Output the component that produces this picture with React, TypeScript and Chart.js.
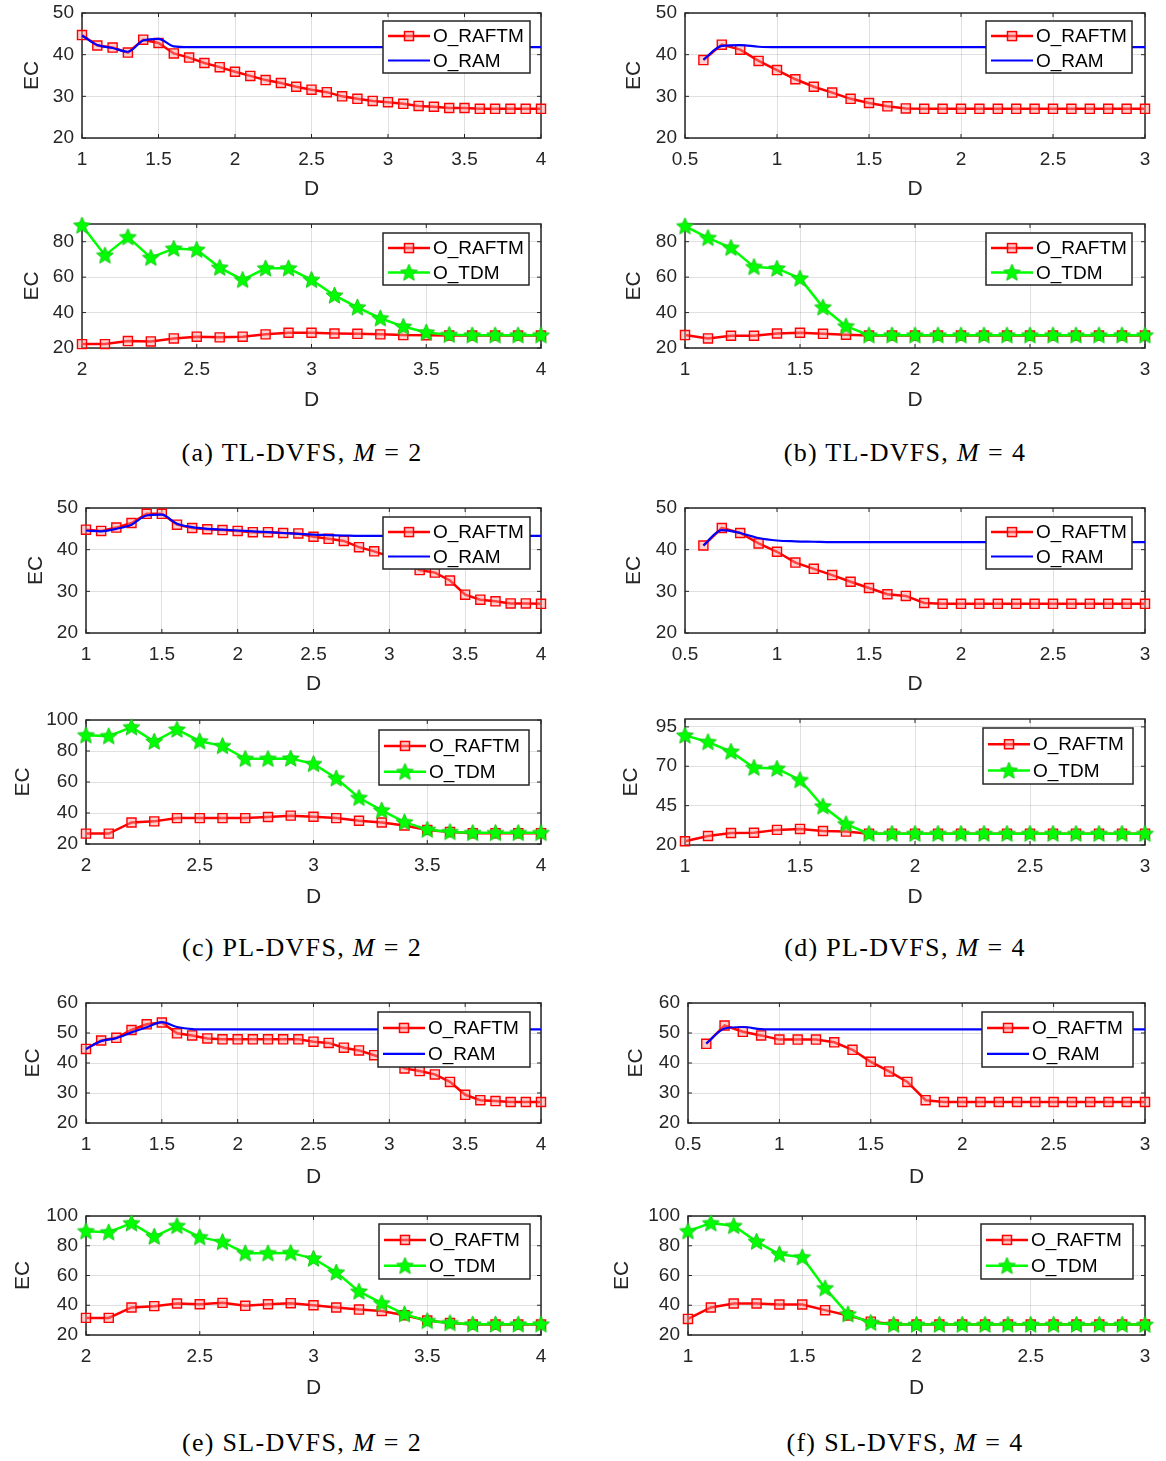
import React, { useEffect, useRef } from "react";
import { Chart, registerables } from "chart.js";
Chart.register(...registerables);

// ---------- x values (D) ----------
const D_1_4 = [1, 1.1, 1.2, 1.3, 1.4, 1.5, 1.6, 1.7, 1.8, 1.9, 2, 2.1, 2.2, 2.3, 2.4, 2.5, 2.6, 2.7, 2.8, 2.9, 3, 3.1, 3.2, 3.3, 3.4, 3.5, 3.6, 3.7, 3.8, 3.9, 4];
const D_06_3 = [0.6, 0.7, 0.8, 0.9, 1, 1.1, 1.2, 1.3, 1.4, 1.5, 1.6, 1.7, 1.8, 1.9, 2, 2.1, 2.2, 2.3, 2.4, 2.5, 2.6, 2.7, 2.8, 2.9, 3];
const D_2_4 = [2, 2.1, 2.2, 2.3, 2.4, 2.5, 2.6, 2.7, 2.8, 2.9, 3, 3.1, 3.2, 3.3, 3.4, 3.5, 3.6, 3.7, 3.8, 3.9, 4];
const D_1_3 = [1, 1.1, 1.2, 1.3, 1.4, 1.5, 1.6, 1.7, 1.8, 1.9, 2, 2.1, 2.2, 2.3, 2.4, 2.5, 2.6, 2.7, 2.8, 2.9, 3];

// ---------- tick labels ----------
const X_TICKS_1_4 = [1, 1.5, 2, 2.5, 3, 3.5, 4];
const X_TICKS_05_3 = [0.5, 1, 1.5, 2, 2.5, 3];
const X_TICKS_2_4 = [2, 2.5, 3, 3.5, 4];
const X_TICKS_1_3 = [1, 1.5, 2, 2.5, 3];
const Y_TICKS_20_50 = [20, 30, 40, 50];
const Y_TICKS_20_80 = [20, 40, 60, 80];
const Y_TICKS_20_100 = [20, 40, 60, 80, 100];
const Y_TICKS_20_95 = [20, 45, 70, 95];
const Y_TICKS_20_60 = [20, 30, 40, 50, 60];

// ---------- (a) TL-DVFS, M = 2 ----------
const A1_RAFTM = [44.7, 42.2, 41.7, 40.5, 43.6, 42.8, 40.3, 39.3, 38.0, 37.0, 35.9, 34.9, 33.9, 33.2, 32.3, 31.6, 31.0, 30.0, 29.4, 28.9, 28.6, 28.2, 27.7, 27.5, 27.2, 27.2, 27.0, 27.0, 27.0, 27.0, 27.0];
const A1_RAM = [44.6, 42.3, 41.6, 40.7, 43.4, 43.8, 42.0, 41.8, 41.8, 41.8, 41.8, 41.8, 41.8, 41.8, 41.8, 41.8, 41.8, 41.8, 41.8, 41.8, 41.8, 41.8, 41.8, 41.8, 41.8, 41.8, 41.8, 41.8, 41.8, 41.8, 41.8];
const A2_RAFTM = [22.2, 22.2, 23.9, 23.7, 25.4, 26.4, 26.0, 26.4, 27.7, 28.6, 28.6, 28.2, 28.0, 27.7, 27.3, 27.2, 27.0, 27.0, 27.0, 27.0, 27.0];
const A2_TDM = [89.2, 72.3, 82.6, 71.0, 76.1, 75.5, 65.4, 58.5, 65.0, 65.0, 58.5, 49.7, 43.0, 36.8, 32.1, 28.8, 27.5, 27.2, 27.2, 27.2, 27.2];

// ---------- (b) TL-DVFS, M = 4 ----------
const B1_RAFTM = [38.7, 42.4, 41.2, 38.5, 36.3, 34.1, 32.3, 30.9, 29.4, 28.4, 27.6, 27.1, 27.0, 27.0, 27.0, 27.0, 27.0, 27.0, 27.0, 27.0, 27.0, 27.0, 27.0, 27.0, 27.0];
const B1_RAM = [38.8, 42.1, 42.3, 41.9, 41.8, 41.8, 41.8, 41.8, 41.8, 41.8, 41.8, 41.8, 41.8, 41.8, 41.8, 41.8, 41.8, 41.8, 41.8, 41.8, 41.8, 41.8, 41.8, 41.8, 41.8];
const B2_RAFTM = [27.3, 25.4, 26.9, 26.9, 28.2, 28.6, 28.0, 27.5, 27.0, 27.0, 27.0, 27.0, 27.0, 27.0, 27.0, 27.0, 27.0, 27.0, 27.0, 27.0, 27.0];
const B2_TDM = [88.8, 82.2, 76.6, 65.8, 64.9, 59.3, 43.0, 32.3, 27.2, 27.2, 27.2, 27.2, 27.2, 27.2, 27.2, 27.2, 27.2, 27.2, 27.2, 27.2, 27.2];

// ---------- (c) PL-DVFS, M = 2 ----------
const C1_RAFTM = [44.8, 44.5, 45.3, 46.4, 48.6, 48.6, 46.0, 45.2, 44.9, 44.7, 44.5, 44.2, 44.2, 44.0, 43.9, 43.1, 42.6, 42.1, 40.6, 39.6, 38.4, 37.0, 35.1, 34.5, 32.6, 29.2, 28.0, 27.6, 27.1, 27.1, 27.0];
const C1_RAM = [44.6, 44.4, 45.0, 46.0, 48.2, 48.4, 46.2, 45.4, 45.0, 44.8, 44.6, 44.4, 44.2, 44.0, 43.8, 43.6, 43.5, 43.4, 43.3, 43.3, 43.3, 43.3, 43.3, 43.3, 43.3, 43.3, 43.3, 43.3, 43.3, 43.3, 43.3];
const C2_RAFTM = [26.7, 26.7, 33.9, 34.6, 36.7, 36.7, 36.7, 36.7, 37.4, 38.3, 37.6, 36.7, 35.0, 33.9, 32.0, 29.1, 27.8, 27.0, 27.0, 27.0, 27.0];
const C2_TDM = [90.2, 89.6, 95.4, 86.1, 93.9, 86.3, 83.3, 75.0, 75.0, 75.2, 71.7, 62.4, 49.8, 41.7, 34.1, 29.3, 27.8, 27.2, 27.2, 27.2, 27.2];

// ---------- (d) PL-DVFS, M = 4 ----------
const D1_RAFTM = [41.0, 45.2, 44.0, 41.5, 39.5, 36.9, 35.4, 33.9, 32.3, 30.8, 29.3, 28.9, 27.2, 27.0, 27.0, 27.0, 27.0, 27.0, 27.0, 27.0, 27.0, 27.0, 27.0, 27.0, 27.0];
const D1_RAM = [41.0, 44.7, 44.0, 42.8, 42.2, 42.0, 41.9, 41.8, 41.8, 41.8, 41.8, 41.8, 41.8, 41.8, 41.8, 41.8, 41.8, 41.8, 41.8, 41.8, 41.8, 41.8, 41.8, 41.8, 41.8];
const D2_RAFTM = [22.4, 25.7, 27.6, 27.8, 29.6, 30.2, 28.9, 28.5, 27.2, 27.2, 27.2, 27.2, 27.2, 27.2, 27.2, 27.2, 27.2, 27.2, 27.2, 27.2, 27.2];
const D2_TDM = [89.6, 85.4, 79.3, 69.1, 68.5, 61.3, 44.6, 33.3, 27.2, 27.2, 27.2, 27.2, 27.2, 27.2, 27.2, 27.2, 27.2, 27.2, 27.2, 27.2, 27.2];

// ---------- (e) SL-DVFS, M = 2 ----------
const E1_RAFTM = [44.7, 47.5, 48.4, 51.0, 52.9, 53.5, 49.9, 49.2, 48.2, 47.9, 47.9, 47.9, 47.9, 47.9, 47.9, 47.1, 46.7, 45.1, 44.2, 42.6, 41.0, 38.2, 37.3, 36.2, 33.7, 29.4, 27.6, 27.3, 27.0, 27.0, 27.0];
const E1_RAM = [44.7, 47.3, 48.3, 50.2, 51.9, 53.6, 52.0, 51.3, 51.2, 51.2, 51.2, 51.2, 51.2, 51.2, 51.2, 51.2, 51.2, 51.2, 51.2, 51.2, 51.2, 51.2, 51.2, 51.2, 51.2, 51.2, 51.2, 51.2, 51.2, 51.2, 51.2];
const E2_RAFTM = [31.5, 31.5, 38.5, 39.4, 41.2, 40.7, 41.6, 39.6, 40.7, 41.4, 40.0, 38.5, 37.1, 36.2, 33.3, 29.7, 28.1, 27.0, 27.0, 27.0, 27.0];
const E2_TDM = [89.8, 89.1, 95.2, 86.2, 93.4, 85.8, 82.6, 75.0, 75.0, 75.2, 71.4, 62.1, 49.3, 41.4, 34.0, 29.5, 28.1, 27.2, 27.2, 27.2, 27.2];

// ---------- (f) SL-DVFS, M = 4 ----------
const F1_RAFTM = [46.4, 52.5, 50.4, 49.2, 47.8, 47.8, 47.8, 46.9, 44.4, 40.4, 37.2, 33.7, 27.6, 27.0, 27.0, 27.0, 27.0, 27.0, 27.0, 27.0, 27.0, 27.0, 27.0, 27.0, 27.0];
const F1_RAM = [46.5, 51.5, 52.0, 51.3, 51.2, 51.2, 51.2, 51.2, 51.2, 51.2, 51.2, 51.2, 51.2, 51.2, 51.2, 51.2, 51.2, 51.2, 51.2, 51.2, 51.2, 51.2, 51.2, 51.2, 51.2];
const F2_RAFTM = [30.8, 38.5, 41.2, 41.2, 40.5, 40.5, 36.7, 33.1, 29.0, 27.0, 27.0, 27.0, 27.0, 27.0, 27.0, 27.0, 27.0, 27.0, 27.0, 27.0, 27.0];
const F2_TDM = [89.8, 95.2, 93.4, 82.8, 74.3, 72.3, 51.5, 34.0, 28.3, 27.0, 27.0, 27.0, 27.0, 27.0, 27.0, 27.0, 27.0, 27.0, 27.0, 27.0, 27.0];

const LABEL_RAFTM = "O_RAFTM";
const LABEL_RAM = "O_RAM";
const LABEL_TDM = "O_TDM";
const X_TITLE = "D";
const Y_TITLE = "EC";

// ---------- styling ----------
const FONT = "'Liberation Sans', Arial, Helvetica, sans-serif";
const AXIS_COLOR = "#262626";
const GRID_COLOR = "rgba(0,0,0,0.12)";
const RED = "#ff0000";
const BLUE = "#0000ff";
const GREEN = "#00ff00";

type Geo = { l: number; t: number; r: number; b: number; ecX: number; dY: number; leg: { x: number; y: number; w: number; h: number } };

type PanelDef = {
  geo: Geo;
  xs: number[];
  xMin: number; xMax: number; xTicks: number[];
  yMin: number; yMax: number; yTicks: number[];
  red: number[];
  other: number[];
  kind: "ram" | "tdm";
};

const PANELS: PanelDef[] = [
  { geo: { l: 82, t: 13, r: 541, b: 138, ecX: 33, dY: 189, leg: { x: 383, y: 21, w: 147, h: 52 } }, xs: D_1_4, xMin: 1, xMax: 4, xTicks: X_TICKS_1_4, yMin: 20, yMax: 50, yTicks: Y_TICKS_20_50, red: A1_RAFTM, other: A1_RAM, kind: "ram" },
  { geo: { l: 82, t: 224, r: 541, b: 348, ecX: 33, dY: 400, leg: { x: 383, y: 233, w: 146, h: 52 } }, xs: D_2_4, xMin: 2, xMax: 4, xTicks: X_TICKS_2_4, yMin: 20, yMax: 90, yTicks: Y_TICKS_20_80, red: A2_RAFTM, other: A2_TDM, kind: "tdm" },
  { geo: { l: 685, t: 13, r: 1145, b: 138, ecX: 635, dY: 189, leg: { x: 986, y: 21, w: 146, h: 52 } }, xs: D_06_3, xMin: 0.5, xMax: 3, xTicks: X_TICKS_05_3, yMin: 20, yMax: 50, yTicks: Y_TICKS_20_50, red: B1_RAFTM, other: B1_RAM, kind: "ram" },
  { geo: { l: 685, t: 224, r: 1145, b: 348, ecX: 635, dY: 400, leg: { x: 986, y: 233, w: 146, h: 52 } }, xs: D_1_3, xMin: 1, xMax: 3, xTicks: X_TICKS_1_3, yMin: 20, yMax: 90, yTicks: Y_TICKS_20_80, red: B2_RAFTM, other: B2_TDM, kind: "tdm" },
  { geo: { l: 86, t: 508, r: 541, b: 633, ecX: 37, dY: 684, leg: { x: 383, y: 517, w: 147, h: 52 } }, xs: D_1_4, xMin: 1, xMax: 4, xTicks: X_TICKS_1_4, yMin: 20, yMax: 50, yTicks: Y_TICKS_20_50, red: C1_RAFTM, other: C1_RAM, kind: "ram" },
  { geo: { l: 86, t: 720, r: 541, b: 844, ecX: 24, dY: 897, leg: { x: 379, y: 730, w: 150, h: 55 } }, xs: D_2_4, xMin: 2, xMax: 4, xTicks: X_TICKS_2_4, yMin: 20, yMax: 100, yTicks: Y_TICKS_20_100, red: C2_RAFTM, other: C2_TDM, kind: "tdm" },
  { geo: { l: 685, t: 508, r: 1145, b: 633, ecX: 635, dY: 684, leg: { x: 986, y: 517, w: 146, h: 52 } }, xs: D_06_3, xMin: 0.5, xMax: 3, xTicks: X_TICKS_05_3, yMin: 20, yMax: 50, yTicks: Y_TICKS_20_50, red: D1_RAFTM, other: D1_RAM, kind: "ram" },
  { geo: { l: 685, t: 719, r: 1145, b: 845, ecX: 632, dY: 897, leg: { x: 983, y: 728, w: 150, h: 56 } }, xs: D_1_3, xMin: 1, xMax: 3, xTicks: X_TICKS_1_3, yMin: 20, yMax: 100, yTicks: Y_TICKS_20_95, red: D2_RAFTM, other: D2_TDM, kind: "tdm" },
  { geo: { l: 86, t: 1003, r: 541, b: 1123, ecX: 34, dY: 1177, leg: { x: 378, y: 1012, w: 152, h: 55 } }, xs: D_1_4, xMin: 1, xMax: 4, xTicks: X_TICKS_1_4, yMin: 20, yMax: 60, yTicks: Y_TICKS_20_60, red: E1_RAFTM, other: E1_RAM, kind: "ram" },
  { geo: { l: 86, t: 1216, r: 541, b: 1335, ecX: 24, dY: 1388, leg: { x: 379, y: 1224, w: 151, h: 55 } }, xs: D_2_4, xMin: 2, xMax: 4, xTicks: X_TICKS_2_4, yMin: 20, yMax: 100, yTicks: Y_TICKS_20_100, red: E2_RAFTM, other: E2_TDM, kind: "tdm" },
  { geo: { l: 688, t: 1003, r: 1145, b: 1123, ecX: 637, dY: 1177, leg: { x: 982, y: 1012, w: 151, h: 55 } }, xs: D_06_3, xMin: 0.5, xMax: 3, xTicks: X_TICKS_05_3, yMin: 20, yMax: 60, yTicks: Y_TICKS_20_60, red: F1_RAFTM, other: F1_RAM, kind: "ram" },
  { geo: { l: 688, t: 1216, r: 1145, b: 1335, ecX: 623, dY: 1388, leg: { x: 981, y: 1224, w: 152, h: 55 } }, xs: D_1_3, xMin: 1, xMax: 3, xTicks: X_TICKS_1_3, yMin: 20, yMax: 100, yTicks: Y_TICKS_20_100, red: F2_RAFTM, other: F2_TDM, kind: "tdm" },
];

const CAPTIONS = [
  { tag: "(a)", method: "TL-DVFS", m: "2", cx: 302, cy: 453 },
  { tag: "(b)", method: "TL-DVFS", m: "4", cx: 905, cy: 453 },
  { tag: "(c)", method: "PL-DVFS", m: "2", cx: 302, cy: 948 },
  { tag: "(d)", method: "PL-DVFS", m: "4", cx: 905, cy: 948 },
  { tag: "(e)", method: "SL-DVFS", m: "2", cx: 302, cy: 1443 },
  { tag: "(f)", method: "SL-DVFS", m: "4", cx: 905, cy: 1443 },
];

const TITLE_LH = 25.2; // 21px * 1.2
const PAD_T = 24;
const PAD_R = 24;

let starCache: HTMLCanvasElement | null = null;
function getStar(): HTMLCanvasElement {
  if (starCache) return starCache;
  const size = 19;
  const c = document.createElement("canvas");
  c.width = size;
  c.height = size;
  const ctx = c.getContext("2d")!;
  const cx = size / 2, cy = size / 2 + 0.5, R = size / 2 - 0.5, r = R * 0.45;
  ctx.beginPath();
  for (let i = 0; i < 10; i++) {
    const ang = -Math.PI / 2 + (i * Math.PI) / 5;
    const rad = i % 2 === 0 ? R : r;
    const px = cx + rad * Math.cos(ang), py = cy + rad * Math.sin(ang);
    if (i === 0) ctx.moveTo(px, py); else ctx.lineTo(px, py);
  }
  ctx.closePath();
  ctx.fillStyle = GREEN;
  ctx.fill();
  ctx.strokeStyle = "#1ec81e";
  ctx.lineWidth = 1;
  ctx.stroke();
  starCache = c;
  return c;
}

const framePlugin = {
  id: "matlabFrame",
  beforeDatasetsDraw(chart: any) {
    const { ctx, chartArea: a } = chart;
    ctx.save();
    ctx.strokeStyle = AXIS_COLOR;
    ctx.lineWidth = 1.5;
    ctx.strokeRect(a.left, a.top, a.right - a.left, a.bottom - a.top);
    ctx.lineWidth = 1;
    const tl = 4;
    const xs = chart.scales.x, ys = chart.scales.y;
    ctx.beginPath();
    xs.ticks.forEach((t: any) => {
      const p = xs.getPixelForValue(t.value);
      ctx.moveTo(p, a.bottom); ctx.lineTo(p, a.bottom - tl);
      ctx.moveTo(p, a.top); ctx.lineTo(p, a.top + tl);
    });
    ys.ticks.forEach((t: any) => {
      const p = ys.getPixelForValue(t.value);
      ctx.moveTo(a.left, p); ctx.lineTo(a.left + tl, p);
      ctx.moveTo(a.right, p); ctx.lineTo(a.right - tl, p);
    });
    ctx.stroke();
    ctx.restore();
  },
};

const boxLegendPlugin = {
  id: "boxLegend",
  afterDatasetsDraw(chart: any, _args: any, opts: any) {
    const { ctx } = chart;
    const { x, y, w, h } = opts;
    ctx.save();
    ctx.fillStyle = "#ffffff";
    ctx.fillRect(x, y, w, h);
    ctx.strokeStyle = AXIS_COLOR;
    ctx.lineWidth = 1.5;
    ctx.strokeRect(x, y, w, h);
    const items = chart.data.datasets.slice().sort((p: any, q: any) => p.legendIndex - q.legendIndex);
    items.forEach((ds: any, i: number) => {
      const yy = y + h * (i === 0 ? 0.29 : 0.76);
      const x0 = x + 5, x1 = x + 47;
      ctx.strokeStyle = ds.borderColor;
      ctx.lineWidth = ds.borderWidth;
      ctx.beginPath();
      ctx.moveTo(x0, yy);
      ctx.lineTo(x1, yy);
      ctx.stroke();
      const mx = (x0 + x1) / 2;
      if (ds.legendMarker === "square") {
        ctx.lineWidth = 1.5;
        ctx.fillStyle = "rgba(255,150,150,0.5)";
        ctx.fillRect(mx - 4.5, yy - 4.5, 9, 9);
        ctx.strokeStyle = RED;
        ctx.strokeRect(mx - 4.5, yy - 4.5, 9, 9);
      } else if (ds.legendMarker === "star") {
        const s = getStar();
        ctx.drawImage(s, mx - s.width / 2, yy - s.height / 2);
      }
      ctx.fillStyle = "#000000";
      ctx.font = `19px ${FONT}`;
      ctx.textBaseline = "middle";
      ctx.textAlign = "left";
      ctx.fillText(ds.label, x + 50, yy + 1);
    });
    ctx.restore();
  },
};

function Panel({ p }: { p: PanelDef }) {
  const ref = useRef<HTMLCanvasElement | null>(null);
  const g = p.geo;
  const cl = Math.round(g.ecX - TITLE_LH / 2);
  const ct = g.t - PAD_T;
  const cr = g.r + PAD_R;
  const cb = Math.round(g.dY + TITLE_LH / 2);
  const W = cr - cl;
  const H = cb - ct;
  const yW = g.l - cl;
  const xH = cb - g.b;

  useEffect(() => {
    if (!ref.current) return;
    const star = getStar();
    const redDs: any = {
      label: LABEL_RAFTM,
      data: p.xs.map((x, i) => ({ x, y: p.red[i] })),
      borderColor: RED,
      borderWidth: 2.5,
      pointStyle: "rect",
      pointRadius: 6.4,
      pointBorderWidth: 1.4,
      pointBorderColor: RED,
      pointBackgroundColor: "rgba(255,150,150,0.45)",
      tension: 0,
      clip: false,
      order: 1,
      legendIndex: 0,
      legendMarker: "square",
    };
    const otherDs: any =
      p.kind === "ram"
        ? {
            label: LABEL_RAM,
            data: p.xs.map((x, i) => ({ x, y: p.other[i] })),
            borderColor: BLUE,
            borderWidth: 2.2,
            pointRadius: 0,
            tension: 0.3,
            cubicInterpolationMode: "monotone",
            clip: false,
            order: 0,
            legendIndex: 1,
            legendMarker: "none",
          }
        : {
            label: LABEL_TDM,
            data: p.xs.map((x, i) => ({ x, y: p.other[i] })),
            borderColor: GREEN,
            borderWidth: 2.5,
            pointStyle: star,
            pointRadius: 9,
            tension: 0,
            clip: false,
            order: 0,
            legendIndex: 1,
            legendMarker: "star",
          };
    const tickFont = { family: FONT, size: 19 };
    const titleFont = { family: FONT, size: 21, lineHeight: 1.2 };
    const chart = new Chart(ref.current, {
      type: "line",
      data: { datasets: [redDs, otherDs] },
      options: {
        animation: false,
        responsive: false,
        events: [],
        layout: { padding: { top: PAD_T, right: PAD_R, left: 0, bottom: 0 } },
        plugins: {
          legend: { display: false },
          tooltip: { enabled: false },
          boxLegend: { x: g.leg.x - cl, y: g.leg.y - ct, w: g.leg.w, h: g.leg.h },
        } as any,
        scales: {
          x: {
            type: "linear",
            min: p.xMin,
            max: p.xMax,
            afterBuildTicks: (s: any) => { s.ticks = p.xTicks.map((v) => ({ value: v })); },
            afterFit: (s: any) => { s.height = xH; },
            grid: { color: GRID_COLOR, lineWidth: 1, drawTicks: false },
            border: { display: false },
            ticks: { font: tickFont, color: AXIS_COLOR, padding: 10, maxRotation: 0, autoSkip: false, callback: (v: any) => String(v) },
            title: { display: true, text: X_TITLE, font: titleFont, color: AXIS_COLOR, padding: 0 },
          },
          y: {
            type: "linear",
            min: p.yMin,
            max: p.yMax,
            afterBuildTicks: (s: any) => { s.ticks = p.yTicks.map((v) => ({ value: v })); },
            afterFit: (s: any) => { s.width = yW; },
            grid: { color: GRID_COLOR, lineWidth: 1, drawTicks: false },
            border: { display: false },
            ticks: { font: tickFont, color: AXIS_COLOR, padding: 8, autoSkip: false, callback: (v: any) => String(v) },
            title: { display: true, text: Y_TITLE, font: titleFont, color: AXIS_COLOR, padding: 0 },
          },
        },
      } as any,
      plugins: [framePlugin, boxLegendPlugin],
    });
    return () => chart.destroy();
  }, []);

  return (
    <canvas
      ref={ref}
      width={W}
      height={H}
      style={{ position: "absolute", left: cl, top: ct, width: W, height: H }}
    />
  );
}

export default function App() {
  return (
    <div style={{ position: "absolute", left: 0, top: 0, width: 1166, height: 1461, background: "#ffffff", overflow: "hidden" }}>
      {PANELS.map((p, i) => (
        <Panel key={i} p={p} />
      ))}
      {CAPTIONS.map((c, i) => (
        <div
          key={i}
          style={{
            position: "absolute",
            left: c.cx,
            top: c.cy - 16,
            transform: "translateX(-50%)",
            whiteSpace: "nowrap",
            fontFamily: "'Liberation Serif', 'Times New Roman', serif",
            fontSize: 26,
            letterSpacing: "1.3px",
            lineHeight: "31px",
            color: "#000",
          }}
        >
          {c.tag} {c.method}, <i>M</i>
          <span style={{ margin: "0 8px" }}>=</span>
          {c.m}
        </div>
      ))}
    </div>
  );
}
